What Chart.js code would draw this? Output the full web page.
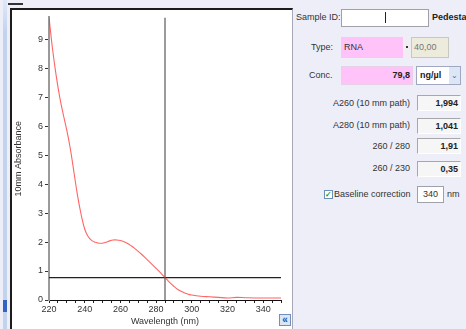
<!DOCTYPE html>
<html>

<head>
    <title>Absorbance Spectrum</title>
    <script src="https://cdn.jsdelivr.net/npm/chart.js"></script>
    <style>
        body { margin: 0; width: 466px; height: 329px; overflow: hidden; background: #eeeef8; font-family: 'Liberation Sans', Arial, sans-serif; font-size: 9px; color: #333; position: relative; }
        .abs { position: absolute; }
        .lbl { position: absolute; height: 12px; line-height: 12px; white-space: nowrap; }
        .rlbl { position: absolute; height: 12px; line-height: 12px; white-space: nowrap; text-align: right; right: 56px; }
        .valbox { position: absolute; left: 417px; width: 40px; height: 14px; line-height: 14px; background: #f6f6f6; border-top: 1px solid #a8a8a8; border-left: 1px solid #a8a8a8; border-bottom: 1px solid #fff; border-right: 1px solid #fff; text-align: right; font-weight: bold; padding-right: 2px; color: #222; }
    </style>
</head>

<body>
    <!-- left strip -->
    <div class="abs" style="left:3px;top:0;width:4px;height:329px;background:linear-gradient(#dfe8f8,#c2d3ee 10%,#c2d3ee);"></div>
    <div class="abs" style="left:3px;top:300px;width:4px;height:12px;background:#3563c4;"></div>
    <div class="abs" style="left:8px;top:3px;width:15px;height:2px;background:#333;"></div>

    <!-- chart panel -->
    <div class="abs" style="left:10px;top:8px;width:280px;height:319px;background:#fff;border-top:2px solid #1c1c1c;border-left:2px solid #1c1c1c;border-right:1px solid #a8a8b8;">
        <div style="position:relative;width:280px;height:317px;">
            <canvas id="spectrumChart"></canvas>
        </div>
    </div>
    <div class="abs" style="left:279px;top:314px;width:10px;height:10px;background:#dbe6f4;border:1px solid #6f8fbf;color:#1f4f9f;font-size:10px;line-height:9px;text-align:center;font-weight:bold;">&laquo;</div>

    <!-- right panel -->
    <div class="lbl" style="left:296px;top:11px;">Sample ID:</div>
    <div class="abs" style="left:341px;top:9px;width:86px;height:16px;background:#fff;border:1px solid #a0a0a8;"></div>
    <div class="abs" style="left:385px;top:12px;width:1px;height:11px;background:#222;"></div>
    <div class="lbl" style="left:432px;top:11px;font-weight:bold;color:#222;">Pedestal</div>

    <div class="lbl" style="left:311px;top:41px;">Type:</div>
    <div class="abs" style="left:341px;top:37px;width:60px;height:19px;background:#ffc2f9;border:1px solid #e8d0e8;line-height:19px;padding-left:2px;">RNA</div>
    <div class="abs" style="left:403px;top:37px;width:8px;height:21px;background:#f0eef2;"></div>
    <div class="abs" style="left:406px;top:46px;width:2px;height:2px;background:#333;"></div>
    <div class="abs" style="left:411px;top:37px;width:34px;height:19px;background:#ecebdc;border:1px solid #c8c8c0;line-height:19px;padding-left:2px;color:#777;">40,00</div>

    <div class="lbl" style="left:309px;top:69px;">Conc.</div>
    <div class="abs" style="left:341px;top:66px;width:68px;height:17px;background:#ffc2f9;border:1px solid #e8d0e8;line-height:17px;text-align:right;padding-right:2px;font-weight:bold;color:#222;">79,8</div>
    <div class="abs" style="left:416px;top:66px;width:43px;height:17px;background:#fff;border:1px solid #a0a8c0;line-height:17px;">
        <span style="padding-left:3px;font-weight:bold;color:#222;">ng/µl</span>
        <span style="position:absolute;right:0;top:0;width:11px;height:17px;background:#dde6f6;color:#4a6fb8;text-align:center;font-size:8px;">&#8964;</span>
    </div>

    <div class="rlbl" style="top:97px;">A260 (10 mm path)</div>
    <div class="valbox" style="top:95px;">1,994</div>
    <div class="rlbl" style="top:119px;">A280 (10 mm path)</div>
    <div class="valbox" style="top:118px;">1,041</div>
    <div class="rlbl" style="top:140px;">260 / 280</div>
    <div class="valbox" style="top:138px;">1,91</div>
    <div class="rlbl" style="top:162px;">260 / 230</div>
    <div class="valbox" style="top:161px;">0,35</div>

    <div class="abs" style="left:324px;top:190px;width:7px;height:7px;background:#fff;border:1px solid #6a8fb8;color:#1f9a2a;font-size:8px;line-height:7px;text-align:center;font-weight:bold;">&#10003;</div>
    <div class="lbl" style="left:334px;top:188px;">Baseline correction</div>
    <div class="abs" style="left:417px;top:186px;width:25px;height:15px;background:#fff;border:1px solid #a0a0a8;line-height:15px;text-align:center;">340</div>
    <div class="lbl" style="left:447px;top:188px;">nm</div>

    <script>
        // spectrum
        const wavelengths = [220, 222, 224, 226, 228, 230, 232, 234, 236, 238, 240, 242, 244, 246, 248, 250,
            252, 254, 256, 258, 260, 262, 264, 266, 268, 270, 272, 274, 276, 278, 280, 282, 284, 286, 288, 290,
            292, 294, 296, 298, 300, 305, 310, 315, 320, 325, 330, 335, 340, 345, 350];
        const absorbance = [9.75, 8.65, 7.75, 7.0, 6.4, 5.85, 5.2, 4.4, 3.6, 2.95, 2.45, 2.18, 2.05, 1.99, 1.96, 1.96,
            1.99, 2.04, 2.07, 2.07, 2.05, 2.01, 1.95, 1.87, 1.78, 1.68, 1.57, 1.45, 1.33, 1.21, 1.09, 0.97, 0.84, 0.71, 0.58, 0.47,
            0.37, 0.3, 0.24, 0.2, 0.17, 0.13, 0.11, 0.09, 0.07, 0.09, 0.08, 0.07, 0.07, 0.07, 0.07];
        const cursorWavelength = 285;
        const thresholdLevel = 0.77;
        const xRange = [220, 350];
        const yRange = [0, 9.75];

        const tickFont = { family: "'Liberation Sans Narrow', 'Liberation Sans', sans-serif", size: 9 };

        const ctx = document.getElementById('spectrumChart').getContext('2d');
        const chart = new Chart(ctx, {
            type: 'line',
            data: {
                datasets: [{
                    data: wavelengths.map((w, i) => ({ x: w, y: absorbance[i] })),
                    borderColor: 'rgba(255, 50, 50, 0.75)',
                    borderWidth: 1.1,
                    pointRadius: 0,
                    tension: 0.4,
                    order: 0
                }, {
                    data: [{ x: xRange[0], y: thresholdLevel }, { x: xRange[1], y: thresholdLevel }],
                    borderColor: '#222',
                    borderWidth: 1.2,
                    pointRadius: 0,
                    order: 1
                }, {
                    data: [{ x: cursorWavelength, y: yRange[0] }, { x: cursorWavelength, y: yRange[1] }],
                    borderColor: '#7a7a7a',
                    borderWidth: 1.5,
                    pointRadius: 0,
                    order: 2
                }]
            },
            options: {
                responsive: true,
                maintainAspectRatio: false,
                animation: false,
                layout: { padding: { top: 0, right: 11, bottom: 0, left: 0 } },
                plugins: { legend: { display: false }, tooltip: { enabled: false } },
                scales: {
                    x: {
                        type: 'linear',
                        min: xRange[0],
                        max: xRange[1],
                        afterFit: (s) => { s.height = 27; },
                        ticks: {
                            stepSize: 5,
                            autoSkip: false,
                            maxRotation: 0,
                            padding: 1,
                            color: '#333',
                            font: tickFont,
                            callback: (v) => (v % 20 === 0 && v < 350 ? v : '')
                        },
                        grid: { drawOnChartArea: false, tickLength: 3, color: '#222' },
                        border: { color: '#111', width: 1 },
                        title: { display: true, text: 'Wavelength (nm)', color: '#333', font: tickFont, padding: { top: 0, bottom: 0 } }
                    },
                    y: {
                        min: yRange[0],
                        max: yRange[1],
                        afterFit: (s) => { s.width = 37; },
                        ticks: {
                            stepSize: 1,
                            includeBounds: false,
                            padding: 2,
                            color: '#333',
                            font: tickFont,
                            callback: (v) => (Number.isInteger(v) ? v : '')
                        },
                        grid: { drawOnChartArea: false, tickLength: 4, color: '#333' },
                        border: { color: '#9a9a9a', width: 2 },
                        title: { display: true, text: '10mm Absorbance', color: '#333', font: tickFont, padding: { top: 1, bottom: 0 } }
                    }
                }
            }
        });
    </script>
</body>

</html>
